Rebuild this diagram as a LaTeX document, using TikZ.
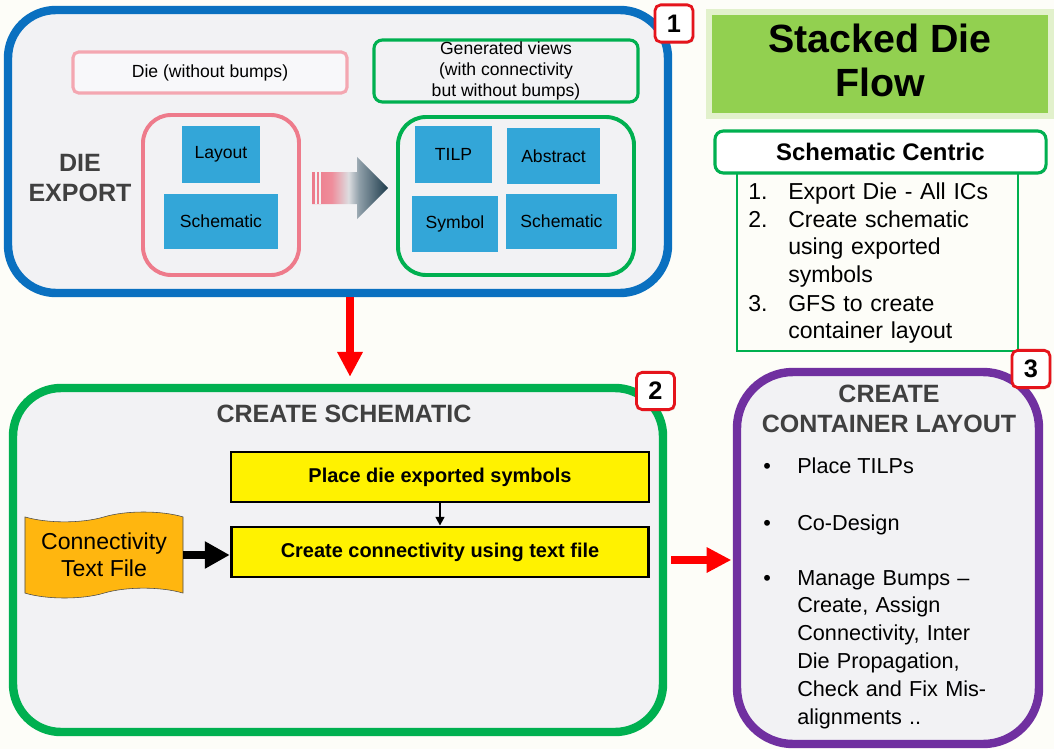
\documentclass[tikz,border=0pt]{standalone}
\usepackage{fontspec}
\setmainfont{Liberation Sans}
\usetikzlibrary{%
	fit,%
	arrows.meta,%
	shapes.symbols,%
	shadows
}

\definecolor{bgcream}{HTML}{FDFDF8}
\definecolor{panelgray}{HTML}{F2F2F4}
\definecolor{exportblue}{HTML}{0A70C0}
\definecolor{diepink}{HTML}{EE7B8B}
\definecolor{labelpink}{HTML}{F4A7B1}
\definecolor{viewgreen}{HTML}{00B050}
\definecolor{tileblue}{HTML}{33A6D8}
\definecolor{layoutpurple}{HTML}{7030A0}
\definecolor{badgered}{HTML}{E5141C}
\definecolor{titlegreen}{HTML}{92D050}
\definecolor{titleglow}{HTML}{E2F1CC}
\definecolor{tapeorange}{HTML}{FFB60F}
\definecolor{headgray}{HTML}{404040}
\definecolor{arrowpink}{HTML}{EC7A8A}
\definecolor{arrowmist}{HTML}{DCDDE0}
\definecolor{arrowsteel}{HTML}{8E9EA8}
\definecolor{arrowslate}{HTML}{1E3C4C}

\pgfdeclarehorizontalshading{exportshade}{100bp}{%
	color(0bp)=(arrowpink); color(25bp)=(arrowpink); color(38bp)=(arrowpink!85!white);
	color(49bp)=(arrowmist); color(56bp)=(arrowsteel); color(75bp)=(arrowslate); color(100bp)=(arrowslate)}

\begin{document}
\begin{tikzpicture}[x=0.025cm, y=-0.025cm,
	panel/.style={draw, line width=6pt, fill=panelgray, rounded corners=1.2cm, inner sep=0pt},
	group/.style={draw, line width=2.8pt, rounded corners=0.7cm, inner sep=0pt},
	tile/.style={fill=tileblue, inner sep=0pt, font=\fontsize{12.5pt}{15pt}\selectfont},
	badge/.style={draw=badgered, line width=2pt, fill=white, rounded corners=4pt, inner sep=0pt,
		minimum width=0.95cm, minimum height=0.93cm,
		drop shadow={opacity=0.25, shadow xshift=1pt, shadow yshift=-1pt},
		font=\bfseries\fontsize{18pt}{20pt}\selectfont},
	heading/.style={text=headgray, align=center, font=\bfseries\fontsize{17.8pt}{21.3pt}\selectfont},
	taskbox/.style={draw, fill=yellow, inner sep=0pt, minimum width=10.44cm, minimum height=1.25cm,
		font=\bfseries\fontsize{14.2pt}{17pt}\selectfont},
	listtext/.style={inner sep=0pt, font=\fontsize{16.4pt}{19.9pt}\selectfont},
	bullettext/.style={inner sep=0pt, font=\fontsize{15.4pt}{19.9pt}\selectfont},
	redarrow/.style={draw=red, line width=5.7pt, -{Triangle[length=0.62cm, width=0.6cm]}}
]
	\useasboundingbox (0,0) rectangle (1054,749);
	\fill[bgcream] (0,0) rectangle (1054,749);

	% Die export
	\node[panel, draw=exportblue, fit={(8,10) (668,293)}] (export) {};
	\node[badge] (badge1) at (674,23.5) {1};
	\node[heading] (dieexport) at (80,178) {DIE\\EXPORT};
	\node[draw=labelpink, line width=2.2pt, fill=panelgray!50!white, rounded corners=4pt, inner sep=0pt,
		minimum width=6.85cm, minimum height=1.025cm, font=\fontsize{12.5pt}{15pt}\selectfont]
		(dielabel) at (210,72.5) {Die (without bumps)};
	\node[draw=viewgreen, line width=2.2pt, rounded corners=6pt, inner sep=0pt,
		minimum width=6.6cm, minimum height=1.55cm, align=center, font=\fontsize{12.5pt}{15pt}\selectfont]
		(viewlabel) at (506,71) {Generated views\\(with connectivity\\but without bumps)};
	\node[group, draw=diepink, fit={(143,115) (299,275)}] (diebox) {};
	\node[group, draw=viewgreen, fit={(398,117) (634,275)}] (viewbox) {};
	\node[tile, minimum width=1.95cm, minimum height=1.425cm] (layout) at (221,154.5) {Layout};
	\node[tile, minimum width=2.85cm, minimum height=1.375cm] (dieschem) at (221,221.5) {Schematic};
	\node[tile, minimum width=1.925cm, minimum height=1.425cm] (tilp) at (453.5,154.5) {TILP};
	\node[tile, minimum width=2.325cm, minimum height=1.4cm] (abstract) at (553.5,156) {Abstract};
	\node[tile, minimum width=2.15cm, minimum height=1.4cm] (symbol) at (455,224) {Symbol};
	\node[tile, minimum width=2.775cm, minimum height=1.375cm] (viewschem) at (561.5,221.5) {Schematic};
	\shade[shading=exportshade]
		(312,172) -- (357,172) -- (357,157) -- (388,188) -- (357,219) -- (357,204) -- (312,204) -- cycle;
	\draw[panelgray, line width=1pt] (316,172) -- (316,204) (320,172) -- (320,204);

	% Title and steps
	\node[fill=titlegreen, draw=titleglow, line width=4pt, inner sep=0pt, minimum width=8.4cm+4pt,
		minimum height=2.45cm+4pt, align=center, font=\bfseries\fontsize{28pt}{31.3pt}\selectfont]
		(title) at (880,64) {};
	\node[align=center, inner sep=0pt, font=\bfseries\fontsize{28pt}{31.3pt}\selectfont]
		(titletext) at (880,60) {Stacked Die\\Flow};
	\node[draw=viewgreen, line width=0.8pt, inner sep=0pt, fit={(737,172) (1018,351)}] (steps) {};
	\node[draw=viewgreen, line width=2.2pt, fill=white, rounded corners=6pt, inner sep=0pt,
		minimum width=8.275cm, minimum height=1.05cm,
		drop shadow={opacity=0.2, shadow xshift=1pt, shadow yshift=-1pt},
		font=\bfseries\fontsize{17pt}{20pt}\selectfont] (centric) at (880.5,152) {Schematic Centric};
	\node[listtext, anchor=base west] (num1) at (748,199) {1.};
	\node[listtext, anchor=base west] (num2) at (748,227) {2.};
	\node[listtext, anchor=base west] (num3) at (748,311) {3.};
	\node[listtext, anchor=base west, text width=6cm, align=left] (item1) at (788,199) {Export Die - All ICs};
	\node[listtext, anchor=base west, text width=6cm, align=left] (item2) at (788,227)
		{Create schematic\\using exported\\symbols};
	\node[listtext, anchor=base west, text width=6cm, align=left] (item3) at (788,311)
		{GFS to create\\container layout};

	% Create schematic
	\node[panel, draw=viewgreen, fit={(13,388) (663,732)}] (schem) {};
	\node[badge] (badge2) at (655.5,391) {2};
	\node[heading] (schemtitle) at (344,414) {CREATE SCHEMATIC};
	\node[taskbox, line width=1pt] (place) at (440,477) {Place die exported symbols};
	\node[taskbox, line width=2pt] (connect) at (440,552) {Create connectivity using text file};
	\node[tape, draw=black!70, fill=tapeorange, tape bend height=7pt, minimum width=3.95cm,
		minimum height=2.15cm, align=center, font=\fontsize{16.4pt}{19.2pt}\selectfont] (textfile)
		at (104,555) {Connectivity\\Text File};
	\draw[line width=1.5pt, -{Triangle[length=0.22cm, width=0.22cm]}] (place) -- (connect);
	\draw[line width=0.22cm, -{Triangle[length=0.62cm, width=0.64cm]}] (textfile.east) -- (textfile.east -| connect.west);

	% Create container layout
	\node[panel, draw=layoutpurple, rounded corners=1.4cm, fit={(737,372) (1039,744)}] (container) {};
	\node[badge] (badge3) at (1031,369) {3};
	\node[heading] (containertitle) at (889,409) {CREATE\\CONTAINER LAYOUT};
	\node[bullettext, anchor=base west] (dot1) at (763,473) {•};
	\node[bullettext, anchor=base west] (dot2) at (763,530) {•};
	\node[bullettext, anchor=base west] (dot3) at (763,585) {•};
	\node[bullettext, anchor=base west] (task1) at (797,473) {Place TILPs};
	\node[bullettext, anchor=base west] (task2) at (797,530) {Co-Design};
	\node[bullettext, anchor=base west, text width=6cm, align=left] (task3) at (797,585)
		{Manage Bumps --\\Create, Assign\\Connectivity, Inter\\Die Propagation,\\Check and Fix Mis-\\alignments ..};

	% Flow arrows
	\draw[redarrow] ([xshift=0.3cm]export.south) -- ([xshift=0.3cm, yshift=0.175cm]schem.north);
	\draw[redarrow, shorten <=3pt, shorten >=1pt] (schem.east) -- (schem.east -| container.west);
\end{tikzpicture}
\end{document}
